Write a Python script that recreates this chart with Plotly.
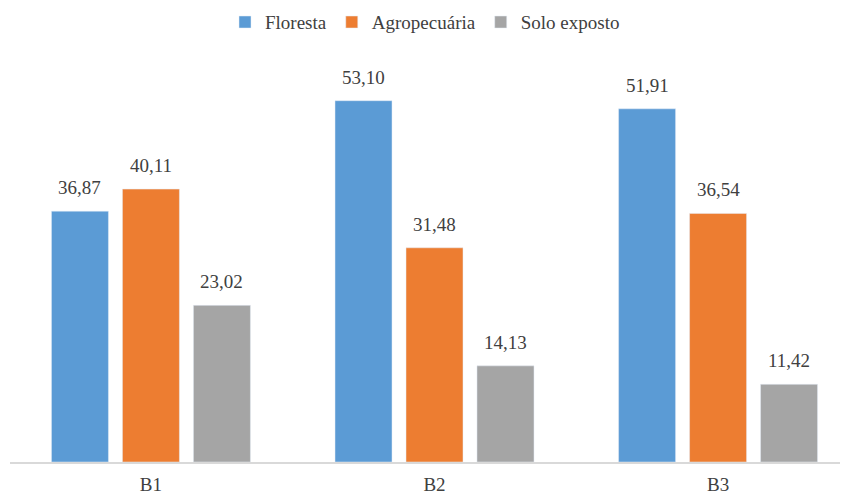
import plotly.graph_objects as go

categories = ["B1", "B2", "B3"]
floresta = [36.87, 53.10, 51.91]
agro = [40.11, 31.48, 36.54]
solo = [23.02, 14.13, 11.42]
series_names = ["Floresta", "Agropecuária", "Solo exposto"]
colors = ["#5B9BD5", "#ED7D31", "#A5A5A5"]

FONT = "'Liberation Serif', 'Times New Roman', serif"
TXT = "#404040"

def fmt(v):
    return f"{v:.2f}".replace(".", ",")

fig = go.Figure()
for name, vals, c in zip(series_names, [floresta, agro, solo], colors):
    fig.add_trace(go.Bar(x=categories, y=vals, name=name, marker_color=c))

# data labels as annotations, offset per series within each group
slot_px = 71
for i, vals in enumerate([floresta, agro, solo]):
    for cat, v in zip(categories, vals):
        fig.add_annotation(x=cat, y=v, text=fmt(v), showarrow=False,
                           xshift=(i - 1) * slot_px, yshift=11, yanchor="bottom",
                           font=dict(family=FONT, size=19, color=TXT))

fig.update_layout(
    width=848, height=495,
    margin=dict(l=10, r=8, t=0, b=33, autoexpand=False),
    paper_bgcolor="white", plot_bgcolor="white",
    barmode="group", bargap=0.249, bargroupgap=0.197,
    font=dict(family=FONT, size=19, color=TXT),
    showlegend=True,
    legend=dict(orientation="h", x=0.5, xanchor="center", y=0.952, yanchor="middle",
                font=dict(family=FONT, size=19, color=TXT),
                itemwidth=30, traceorder="normal", bgcolor="rgba(0,0,0,0)"),
    xaxis=dict(range=[-0.497, 2.43], showline=True, linecolor="#D9D9D9", linewidth=2,
               ticks="outside", ticklen=4, tickcolor="rgba(0,0,0,0)", automargin=False,
               tickfont=dict(family=FONT, size=19, color=TXT)),
    yaxis=dict(range=[0, 67.9], visible=False, showgrid=False, automargin=False),
)
fig.write_html("out.html")
